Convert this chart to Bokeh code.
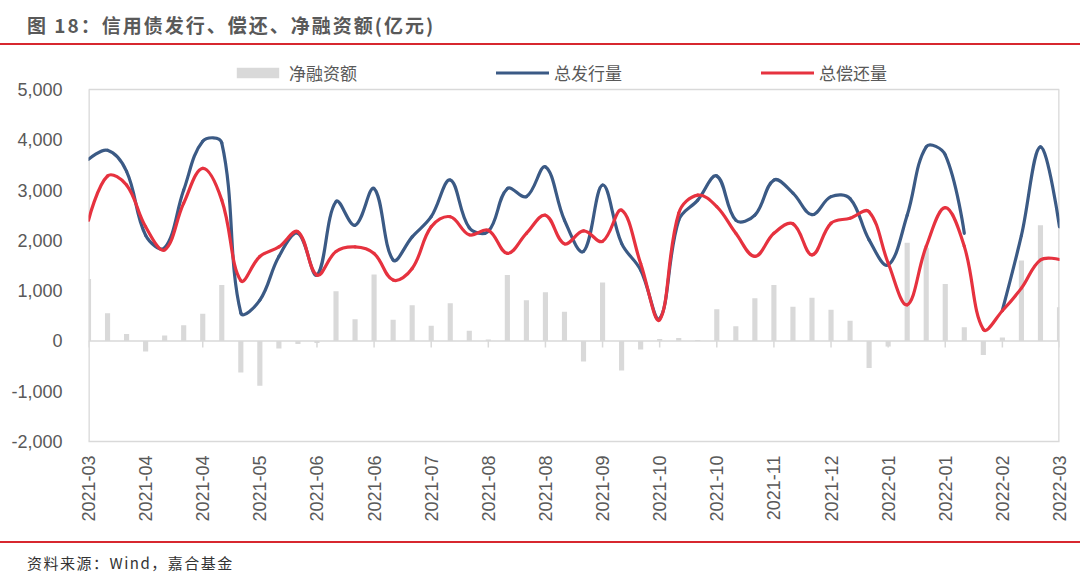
import math
from bokeh.plotting import figure
from bokeh.models import (ColumnDataSource, Range1d, FixedTicker, NumeralTickFormatter,
                          Span, Legend, LegendItem, Div)
from bokeh.layouts import column
from bokeh.embed import file_html
from bokeh.resources import INLINE

# ---------------- data (weekly, 52 points) ----------------
tick_labels = ["2021-03", "2021-04", "2021-04", "2021-05", "2021-06", "2021-06",
               "2021-07", "2021-08", "2021-08", "2021-09", "2021-10", "2021-10",
               "2021-11", "2021-12", "2022-01", "2022-01", "2022-02", "2022-03"]

net_financing = [1230, 550, 140, -210, 110, 310, 540, 1110, -630, -890, -150, -60, -40,
                 990, 430, 1320, 420, 710, 300, 750, 200, 30, 1310, 810, 970, 580,
                 -410, 1160, -590, -170, 40, 60, 20, 630, 290, 850, 1110, 680,
                 860, 620, 400, -540, -110, 1950, 1850, 1130, 270, -280, 70, 1600, 2300, 670]

issuance = [3610, 3790, 3370, 2100, 1850, 3000, 3970, 3940, 560, 810, 1680, 2140, 1310,
            2770, 2300, 3030, 1610, 2070, 2470, 3200, 2250, 2180, 3030, 2870, 3460, 2400,
            1780, 3100, 1940, 1410, 440, 2400, 2800, 3280, 2400, 2500, 3200, 2940,
            2510, 2870, 2830, 2010, 1510, 2500, 3860, 3700, 2140, float("nan"), 610, 2100, 3860, 2270]

repayment = [2400, 3280, 3100, 2270, 1810, 2740, 3430, 2800, 1200, 1680, 1870, 2170, 1310,
             1780, 1870, 1740, 1210, 1440, 2270, 2470, 2110, 2200, 1740, 2140, 2500, 1930,
             2190, 1980, 2600, 1540, 420, 2540, 2900, 2670, 2140, 1680, 2140, 2330,
             1710, 2340, 2440, 2570, 1550, 720, 1880, 2650, 1880, 230, 600, 1050, 1610, 1620]

y_ticks = [-2000, -1000, 0, 1000, 2000, 3000, 4000, 5000]
series_names = ["净融资额", "总发行量", "总偿还量"]

# ---------------- styles ----------------
BLUE = "#3b5a85"
RED = "#e6323f"
GRAY = "#d9d9d9"
TXT = "#595959"
RULE = "#d7272f"

W, H = 1080, 496
ML, MR, MT, MB = 88, 21, 13, 100
AXIS_LO, AXIS_HI = y_ticks[0], y_ticks[-1]
# the plotting frame reaches a bit above the value axis so the legend can sit there
HEADROOM_PX = 31
FRAME_H = H - MT - MB
SY = (FRAME_H - HEADROOM_PX) / (AXIS_HI - AXIS_LO)       # px per unit
Y_TOP = AXIS_HI + HEADROOM_PX / SY
N = len(issuance)
SX = (W - ML - MR) / (N - 1)

idx = list(range(N))
tick_pos = list(range(0, N, 3))


def isnan(v):
    return v is None or (isinstance(v, float) and math.isnan(v))


def bezier_source(xs, ys, t=0.38):
    """Smoothed line: cubic bezier per segment, control lengths scaled by neighbour distances."""
    n = len(ys)

    def ok(j):
        return 0 <= j < n and not isnan(ys[j])

    def dist(a, b):
        return math.hypot((xs[b] - xs[a]) * SX, (ys[b] - ys[a]) * SY)

    before, after = {}, {}
    for i in range(n):
        if not ok(i):
            continue
        if ok(i - 1) and ok(i + 1):
            d0, d1 = dist(i - 1, i), dist(i, i + 1)
            tx, ty = xs[i + 1] - xs[i - 1], ys[i + 1] - ys[i - 1]
            fa = t * d0 / (d0 + d1)
            fb = t * d1 / (d0 + d1)
            before[i] = (xs[i] - fa * tx, ys[i] - fa * ty)
            after[i] = (xs[i] + fb * tx, ys[i] + fb * ty)
        else:
            before[i] = (xs[i], ys[i])
            after[i] = (xs[i], ys[i])
    d = dict(x0=[], y0=[], x1=[], y1=[], cx0=[], cy0=[], cx1=[], cy1=[])
    for i in range(n - 1):
        if not (ok(i) and ok(i + 1)):
            continue
        d["x0"].append(xs[i]); d["y0"].append(ys[i])
        d["x1"].append(xs[i + 1]); d["y1"].append(ys[i + 1])
        d["cx0"].append(after[i][0]); d["cy0"].append(after[i][1])
        d["cx1"].append(before[i + 1][0]); d["cy1"].append(before[i + 1][1])
    return ColumnDataSource(d)


p = figure(width=W, height=H, output_backend="svg", toolbar_location=None,
           x_range=Range1d(0, N - 1), y_range=Range1d(AXIS_LO, Y_TOP),
           min_border_left=ML, min_border_right=MR, min_border_top=MT, min_border_bottom=MB,
           margin=0)
p.background_fill_color = "white"
p.border_fill_color = "white"
p.outline_line_color = None
p.xgrid.visible = False
p.ygrid.visible = False

# plot-area border (from the value-axis bottom to its top)
p.segment(x0=[0, N - 1, 0], y0=[AXIS_LO, AXIS_LO, AXIS_HI],
          x1=[0, N - 1, N - 1], y1=[AXIS_HI, AXIS_HI, AXIS_HI],
          line_color=GRAY, line_width=[2.6, 2.6, 1.5])

# bars
bars = p.vbar(x=idx, top=net_financing, width=0.27, fill_color=GRAY, line_color=None)

# zero line and category ticks
p.add_layout(Span(location=0, dimension="width", line_color=GRAY, line_width=1.5))
p.segment(x0=tick_pos, y0=[0] * len(tick_pos), x1=tick_pos, y1=[-130] * len(tick_pos),
          line_color=GRAY, line_width=1.5)

# smoothed lines
blue_r = p.bezier(x0="x0", y0="y0", x1="x1", y1="y1", cx0="cx0", cy0="cy0", cx1="cx1", cy1="cy1",
                  source=bezier_source(idx, issuance), line_color=BLUE, line_width=3.2,
                  line_cap="round")
red_r = p.bezier(x0="x0", y0="y0", x1="x1", y1="y1", cx0="cx0", cy0="cy0", cx1="cx1", cy1="cy1",
                 source=bezier_source(idx, repayment), line_color=RED, line_width=3.2,
                 line_cap="round")

# axes
p.yaxis.ticker = FixedTicker(ticks=y_ticks)
p.yaxis.formatter = NumeralTickFormatter(format="0,0")
p.yaxis.axis_line_color = None
p.yaxis.major_tick_line_color = None
p.yaxis.minor_tick_line_color = None
p.yaxis.major_label_standoff = 20
p.yaxis.major_label_text_font = "Liberation Sans"
p.yaxis.major_label_text_font_size = "18px"
p.yaxis.major_label_text_color = TXT

p.xaxis.ticker = FixedTicker(ticks=tick_pos)
p.xaxis.major_label_overrides = {t: lab for t, lab in zip(tick_pos, tick_labels)}
p.xaxis.major_label_orientation = math.pi / 2
p.xaxis.axis_line_color = GRAY
p.xaxis.axis_line_width = 1.5
p.xaxis.major_tick_line_color = None
p.xaxis.minor_tick_line_color = None
p.xaxis.major_label_standoff = 8
p.xaxis.major_label_text_font = "Liberation Sans"
p.xaxis.major_label_text_font_size = "18px"
p.xaxis.major_label_text_color = TXT

# legend in the headroom above the value axis
legend = Legend(items=[LegendItem(label=series_names[0], renderers=[bars]),
                       LegendItem(label=series_names[1], renderers=[blue_r]),
                       LegendItem(label=series_names[2], renderers=[red_r])],
                location=(143, FRAME_H - 27), orientation="horizontal", padding=0, margin=0,
                spacing=139, glyph_width=53, glyph_height=13, label_standoff=5, label_width=68,
                label_text_font="Noto Sans CJK SC", label_text_font_size="17px",
                label_text_color=TXT, border_line_color=None, background_fill_alpha=0)
p.add_layout(legend)

title_div = Div(width=W, height=45, margin=0, text=(
    '<div style="box-sizing:border-box;width:1080px;height:45px;line-height:34px;'
    'padding-top:8px;padding-left:27px;border-bottom:2px solid ' + RULE + ';'
    'font-family:\'Noto Sans CJK SC\';font-weight:bold;font-size:19px;color:' + TXT + ';'
    'letter-spacing:2px;white-space:nowrap;">'
    '图 18：信用债发行、偿还、净融资额(亿元)</div>'))

footer_div = Div(width=W, height=33, margin=0, text=(
    '<div style="box-sizing:border-box;width:1080px;height:33px;line-height:18px;'
    'padding-top:11px;padding-left:27px;border-top:2px solid ' + RULE + ';'
    'font-family:\'Noto Sans CJK SC\';font-size:15px;color:#333333;letter-spacing:1.5px;'
    'white-space:nowrap;">资料来源：Wind，嘉合基金</div>'))

layout = column(title_div, p, footer_div, spacing=0, margin=0)

open("out.html", "w").write(file_html(layout, INLINE))
